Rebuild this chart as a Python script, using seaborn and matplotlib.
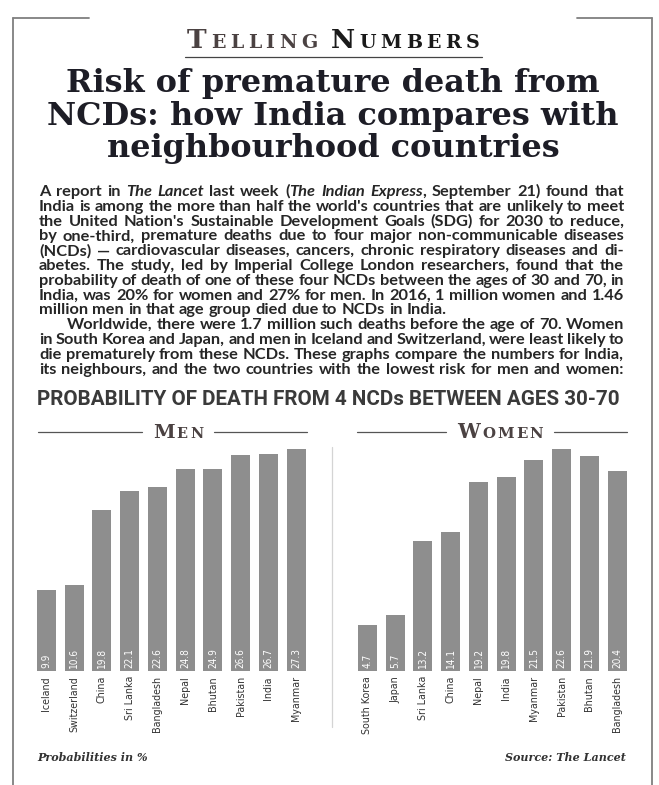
import matplotlib
matplotlib.use("Agg")
import matplotlib.pyplot as plt
from matplotlib.lines import Line2D
from matplotlib import font_manager as fm
import seaborn as sns
import pandas as pd

# ---------------- data ----------------
men_countries = ["Iceland", "Switzerland", "China", "Sri Lanka", "Bangladesh",
                 "Nepal", "Bhutan", "Pakistan", "India", "Myanmar"]
men_values = [9.9, 10.6, 19.8, 22.1, 22.6, 24.8, 24.9, 26.6, 26.7, 27.3]

women_countries = ["South Korea", "Japan", "Sri Lanka", "China", "Nepal",
                   "India", "Myanmar", "Pakistan", "Bhutan", "Bangladesh"]
women_values = [4.7, 5.7, 13.2, 14.1, 19.2, 19.8, 21.5, 22.6, 21.9, 20.4]

title_lines = ["Risk of premature death from",
               "NCDs: how India compares with",
               "neighbourhood countries"]

body_lines = [
    "A report in *The Lancet* last week (*The Indian Express*, September 21) found that",
    "India is among the more than half the world's countries that are unlikely to meet",
    "the United Nation's Sustainable Development Goals (SDG) for 2030 to reduce,",
    "by one-third, premature deaths due to four major non-communicable diseases",
    "(NCDs) \u2014 cardiovascular diseases, cancers, chronic respiratory diseases and di-",
    "abetes. The study, led by Imperial College London researchers, found that the",
    "probability of death of one of these four NCDs between the ages of 30 and 70, in",
    "India, was 20% for women and 27% for men. In 2016, 1 million women and 1.46",
    "million men in that age group died due to NCDs in India.",
    "Worldwide, there were 1.7 million such deaths before the age of 70. Women",
    "in South Korea and Japan, and men in Iceland and Switzerland, were least likely to",
    "die prematurely from these NCDs. These graphs compare the numbers for India,",
    "its neighbours, and the two countries with the lowest risk for men and women:",
]
unjustified = {8}
indented = {9}

header_text = "PROBABILITY OF DEATH FROM 4 NCDs BETWEEN AGES 30-70"

# ---------------- setup ----------------
W, H = 659, 785
sns.set_theme(style="white")
plt.rcParams["font.family"] = ["DejaVu Sans"]

fig = plt.figure(figsize=(W / 100, H / 100), dpi=100)
fig.patch.set_facecolor("white")
renderer = fig.canvas.get_renderer()


def fx(x):
    return x / W


def fy(y):
    return 1 - y / H


def tw(t):
    return t.get_window_extent(renderer).width


ttf = fm.fontManager.ttflist
names = {f.name for f in ttf}


def is_cond(f):
    s = str(f.stretch)
    return s in ("condensed", "semi-condensed", "extra-condensed") or (s.isdigit() and int(s) < 500)


if "Liberation Sans Narrow" in names:
    COND = dict(fontfamily="Liberation Sans Narrow")
elif any(f.name == "DejaVu Sans" and is_cond(f) for f in ttf):
    COND = dict(fontfamily="DejaVu Sans", fontstretch="condensed")
elif "Roboto" in names:
    COND = dict(fontfamily="Roboto")
else:
    COND = dict(fontfamily="DejaVu Sans")

BODY_FAMILY = "Lato" if "Lato" in names else "DejaVu Sans"
HEAD_FAMILY = "Roboto" if "Roboto" in names else "DejaVu Sans"
SERIF = "DejaVu Serif"
BAR = "#8e8e8e"
FRAME = "#7f7f7f"
DARK = "#1d1d26"


def fit_size(s, target_w, **kw):
    t = fig.text(0, 0, s, fontsize=10, **kw)
    w = tw(t)
    t.remove()
    return 10 * target_w / w


# ---------------- frame ----------------
for xs, ys in [([13, 13], [18, 785]), ([13, 89], [18, 18]),
               ([577, 652], [18, 18]), ([652, 652], [18, 785])]:
    fig.add_artist(Line2D([fx(v) for v in xs], [fy(v) for v in ys],
                          transform=fig.transFigure, color=FRAME, lw=1.3))


# ---------------- small caps helper ----------------
def small_caps(words, x_left, x_right, base_y, ratio, track_px, gap_px, colors):
    """words: list of words; first letter big, rest small caps. Sizes are fitted to width."""
    items = []
    for wi, (wd, col) in enumerate(zip(words, colors)):
        for ci, ch in enumerate(wd):
            size = 10 if ci == 0 else 10 * ratio
            t = fig.text(0, fy(base_y), ch, fontsize=size, family=SERIF,
                         fontweight="bold", color=col, va="baseline", ha="left")
            items.append((t, size))
        if wi < len(words) - 1:
            items.append((None, 0))
    nchars = sum(1 for t, _ in items if t is not None)
    ngaps = sum(1 for t, _ in items if t is None)
    natural = sum(tw(t) for t, _ in items if t is not None)
    avail = x_right - x_left - (nchars - 1) * track_px - ngaps * gap_px
    scale = avail / natural
    for t, s in items:
        if t is not None:
            t.set_fontsize(s * scale)
    x = x_left
    for t, _ in items:
        if t is None:
            x += gap_px
            continue
        t.set_x(fx(x))
        x += tw(t) + track_px


# ---------------- Telling Numbers ----------------
small_caps(["TELLING", "NUMBERS"], 187, 480, 48.5, 0.72, 4.5, 9,
           ["#4b4242", "#1a1a1a"])
fig.add_artist(Line2D([fx(185), fx(482)], [fy(57), fy(57)],
                      transform=fig.transFigure, color="#444444", lw=0.9))

# ---------------- Title ----------------
tsize = fit_size(title_lines[1], 574, family=SERIF, fontweight="bold")
for s, yb in zip(title_lines, [92, 124.5, 157]):
    fig.text(fx(333), fy(yb), s, fontsize=tsize, family=SERIF, fontweight="bold",
             color=DARK, ha="center", va="baseline")


# ---------------- Body text (justified) ----------------
def parse(line):
    words = []
    ital = False
    for w in line.split(" "):
        segs = []
        for k, p in enumerate(w.split("*")):
            if k > 0:
                ital = not ital
            if p:
                segs.append((p, ital))
        words.append(segs)
    return words


BODY_COLOR = "#262626"
BODY_W = "bold"
body_size = 9.0
parsed = [parse(l) for l in body_lines]
all_texts = []
for li, words in enumerate(parsed):
    lt = []
    for segs in words:
        st = []
        for s, it in segs:
            t = fig.text(0, fy(196 + 14.8 * li), s, fontsize=body_size, family=BODY_FAMILY,
                         fontweight=BODY_W, fontstyle="italic" if it else "normal",
                         color=BODY_COLOR, va="baseline", ha="left")
            st.append(t)
        lt.append(st)
    all_texts.append(lt)

L_X, R_X = 39, 624


def space_w(size):
    a = fig.text(0, 0, "a a", fontsize=size, family=BODY_FAMILY, fontweight=BODY_W)
    b = fig.text(0, 0, "aa", fontsize=size, family=BODY_FAMILY, fontweight=BODY_W)
    r = tw(a) - tw(b)
    a.remove(); b.remove()
    return r


sp = space_w(body_size)
maxw = 0
for li, lt in enumerate(all_texts):
    start = 67 if li in indented else L_X
    wsum = sum(tw(t) for st in lt for t in st)
    nat = wsum + 0.8 * sp * (len(lt) - 1)
    maxw = max(maxw, nat / (R_X - start))
new_size = body_size / maxw
for lt in all_texts:
    for st in lt:
        for t in st:
            t.set_fontsize(new_size)
sp = space_w(new_size)

for li, lt in enumerate(all_texts):
    start = 67 if li in indented else L_X
    word_w = [[tw(t) for t in st] for st in lt]
    wsum = sum(sum(w) for w in word_w)
    if li in unjustified:
        gap = sp
    else:
        gap = (R_X - start - wsum) / (len(lt) - 1)
    x = start
    for st, ws in zip(lt, word_w):
        for t, w in zip(st, ws):
            t.set_x(fx(x))
            x += w
        x += gap

# ---------------- chart header ----------------
hsize = fit_size(header_text, 585, family=HEAD_FAMILY, fontweight="bold")
fig.text(fx(37), fy(405), header_text, fontsize=hsize, family=HEAD_FAMILY,
         fontweight="bold", color="#3a3a3a", ha="left", va="baseline")


# ---------------- section titles (MEN / WOMEN) ----------------
def section_title(word, center, lo, hi, width):
    x_left = center - width / 2
    small_caps([word], x_left, x_left + width, 437.5, 0.74, 2.2, 0, ["#4b4242"])
    for xs in ([lo, x_left - 11], [x_left + width + 11, hi]):
        fig.add_artist(Line2D([fx(xs[0]), fx(xs[1])], [fy(432), fy(432)],
                              transform=fig.transFigure, color="#555555", lw=0.9))


section_title("MEN", 178, 38, 307, 50)
section_title("WOMEN", 500, 357, 627, 86)

# ---------------- bar charts ----------------
lab_size = fit_size("Switzerland", 56, **COND)
val_size = fit_size("22.6", 20, **COND)
BASE = 671
TOP = 449


def bar_chart(left, right, countries, values):
    ax = fig.add_axes([fx(left), fy(BASE), (right - left) / W, (BASE - TOP) / H])
    df = pd.DataFrame({"country": countries, "value": values})
    sns.barplot(data=df, x="country", y="value", color=BAR, saturation=1,
                width=0.685, errorbar=None, edgecolor="none", ax=ax)
    ax.set_xlim(-0.5, len(countries) - 0.5)
    ax.set_ylim(0, max(values))
    ax.set_facecolor("none")
    for s in ax.spines.values():
        s.set_visible(False)
    ax.set_yticks([])
    ax.set_xlabel("")
    ax.set_ylabel("")
    ax.set_xticks(range(len(countries)))
    ax.set_xticklabels(countries, rotation=90, fontsize=lab_size, color="#333333", **COND)
    ax.tick_params(axis="x", length=0, pad=3.6)
    for i, v in enumerate(values):
        ax.annotate(f"{v:.1f}", xy=(i, 0), xytext=(0, 3), textcoords="offset pixels",
                    rotation=90, ha="center", va="bottom", color="white",
                    fontsize=val_size, **COND)
    return ax


bar_chart(32.6, 310.1, men_countries, men_values)
bar_chart(353.6, 631.1, women_countries, women_values)

# separator
fig.add_artist(Line2D([fx(332), fx(332)], [fy(447), fy(727)],
                      transform=fig.transFigure, color="#d4d4d4", lw=0.9))

# ---------------- footer ----------------
fsize = fit_size("Probabilities in %", 110, family=SERIF, fontweight="bold", fontstyle="italic")
fig.text(fx(37), fy(761), "Probabilities in %", fontsize=fsize, family=SERIF,
         fontweight="bold", fontstyle="italic", color="#333333", ha="left", va="baseline")
fig.text(fx(626), fy(761), "Source: The Lancet", fontsize=fsize, family=SERIF,
         fontweight="bold", fontstyle="italic", color="#333333", ha="right", va="baseline")

fig.savefig("out.png", dpi=100, facecolor="white")
